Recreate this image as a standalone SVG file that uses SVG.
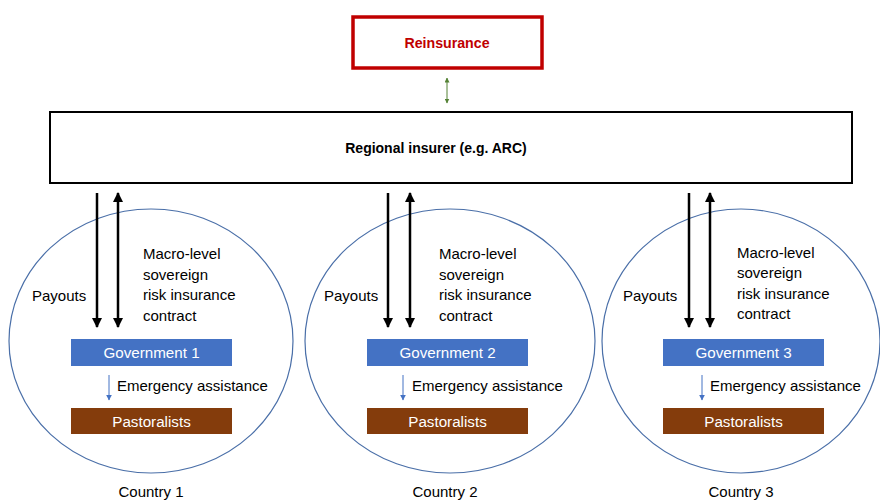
<svg xmlns="http://www.w3.org/2000/svg" width="880" height="501" viewBox="0 0 880 501">
  <style>
    text { font-family: "Liberation Sans", Arial, sans-serif; }
    .lbl { font-size: 15px; fill: #000; }
    .box-lbl { font-size: 15.2px; fill: #fff; text-anchor: middle; }
    .gov { fill: #4472C4; }
    .past { fill: #843C0C; }
    .country { fill: none; stroke: #4A6FA8; stroke-width: 1.2; }
    .flow { stroke: #000; stroke-width: 2.5; fill: none; }
    .aid { stroke: #4472C4; stroke-width: 1; fill: none; }
  </style>
  <defs>
    <marker id="blk" viewBox="0 0 10 10" refX="9" refY="5" markerWidth="4" markerHeight="4" orient="auto-start-reverse" markerUnits="strokeWidth">
      <path d="M0,0 L10,5 L0,10 z" fill="#000"/>
    </marker>
    <marker id="blu" viewBox="0 0 10 10" refX="9" refY="5" markerWidth="6" markerHeight="6" orient="auto" markerUnits="strokeWidth">
      <path d="M0,0 L10,5 L0,10 z" fill="#4472C4"/>
    </marker>
    <marker id="grn" viewBox="0 0 10 10" refX="9" refY="5" markerWidth="5" markerHeight="5" orient="auto-start-reverse" markerUnits="strokeWidth">
      <path d="M0,0 L10,5 L0,10 z" fill="#548235"/>
    </marker>
  </defs>

  <rect width="880" height="501" fill="#fff"/>

  <!-- country ellipses -->
  <g id="country1">
    <ellipse class="country" cx="151" cy="341" rx="142" ry="132"/>
    <text class="lbl" x="151" y="497" text-anchor="middle">Country 1</text>
  </g>
  <g id="country2">
    <ellipse class="country" cx="450" cy="341" rx="145" ry="132"/>
    <text class="lbl" x="445" y="497" text-anchor="middle">Country 2</text>
  </g>
  <g id="country3">
    <ellipse class="country" cx="741" cy="341" rx="139" ry="132"/>
    <text class="lbl" x="741" y="497" text-anchor="middle">Country 3</text>
  </g>

  <!-- top level -->
  <g id="reinsurance">
    <rect x="353" y="17" width="189" height="51" fill="#fff" stroke="#C00000" stroke-width="3.5"/>
    <text x="447" y="48" text-anchor="middle" font-size="14.2" font-weight="bold" fill="#C00000">Reinsurance</text>
  </g>
  <g id="regional-insurer">
    <rect x="50" y="112" width="802" height="71" fill="#fff" stroke="#000" stroke-width="2"/>
    <text x="436" y="153" text-anchor="middle" font-size="14" font-weight="bold" fill="#000">Regional insurer (e.g. ARC)</text>
  </g>

  <!-- government / pastoralist boxes -->
  <g id="gov1"><rect class="gov" x="71" y="339" width="161" height="27"/><text class="box-lbl" x="151.5" y="358">Government 1</text></g>
  <g id="past1"><rect class="past" x="71" y="408" width="161" height="26"/><text class="box-lbl" x="151.5" y="426.5">Pastoralists</text></g>
  <g id="gov2"><rect class="gov" x="367" y="339" width="161" height="27"/><text class="box-lbl" x="447.5" y="358">Government 2</text></g>
  <g id="past2"><rect class="past" x="367" y="408" width="161" height="26"/><text class="box-lbl" x="447.5" y="426.5">Pastoralists</text></g>
  <g id="gov3"><rect class="gov" x="663" y="339" width="161" height="27"/><text class="box-lbl" x="743.5" y="358">Government 3</text></g>
  <g id="past3"><rect class="past" x="663" y="408" width="161" height="26"/><text class="box-lbl" x="743.5" y="426.5">Pastoralists</text></g>

  <!-- connectors -->
  <g id="connectors">
    <line x1="447" y1="78" x2="447" y2="103" stroke="#548235" stroke-width="1" marker-start="url(#grn)" marker-end="url(#grn)"/>

    <line class="flow" x1="97" y1="193" x2="97" y2="327" marker-end="url(#blk)"/>
    <line class="flow" x1="118" y1="193" x2="118" y2="327" marker-start="url(#blk)" marker-end="url(#blk)"/>
    <line class="flow" x1="388" y1="193" x2="388" y2="327" marker-end="url(#blk)"/>
    <line class="flow" x1="410" y1="193" x2="410" y2="327" marker-start="url(#blk)" marker-end="url(#blk)"/>
    <line class="flow" x1="689" y1="193" x2="689" y2="327" marker-end="url(#blk)"/>
    <line class="flow" x1="710" y1="193" x2="710" y2="327" marker-start="url(#blk)" marker-end="url(#blk)"/>

    <line class="aid" x1="109" y1="375" x2="109" y2="400" marker-end="url(#blu)"/>
    <line class="aid" x1="403" y1="375" x2="403" y2="400" marker-end="url(#blu)"/>
    <line class="aid" x1="702" y1="375" x2="702" y2="400" marker-end="url(#blu)"/>
  </g>

  <!-- connector labels -->
  <g id="labels1">
    <text class="lbl" x="32" y="301">Payouts</text>
    <text class="lbl" x="143" y="259">Macro-level</text>
    <text class="lbl" x="143" y="280">sovereign</text>
    <text class="lbl" x="143" y="300">risk insurance</text>
    <text class="lbl" x="143" y="321">contract</text>
    <text class="lbl" x="117" y="391">Emergency assistance</text>
  </g>
  <g id="labels2">
    <text class="lbl" x="324" y="301">Payouts</text>
    <text class="lbl" x="439" y="259">Macro-level</text>
    <text class="lbl" x="439" y="280">sovereign</text>
    <text class="lbl" x="439" y="300">risk insurance</text>
    <text class="lbl" x="439" y="321">contract</text>
    <text class="lbl" x="412" y="391">Emergency assistance</text>
  </g>
  <g id="labels3">
    <text class="lbl" x="623" y="301">Payouts</text>
    <text class="lbl" x="737" y="258">Macro-level</text>
    <text class="lbl" x="737" y="278">sovereign</text>
    <text class="lbl" x="737" y="299">risk insurance</text>
    <text class="lbl" x="737" y="319">contract</text>
    <text class="lbl" x="710" y="391">Emergency assistance</text>
  </g>
</svg>
